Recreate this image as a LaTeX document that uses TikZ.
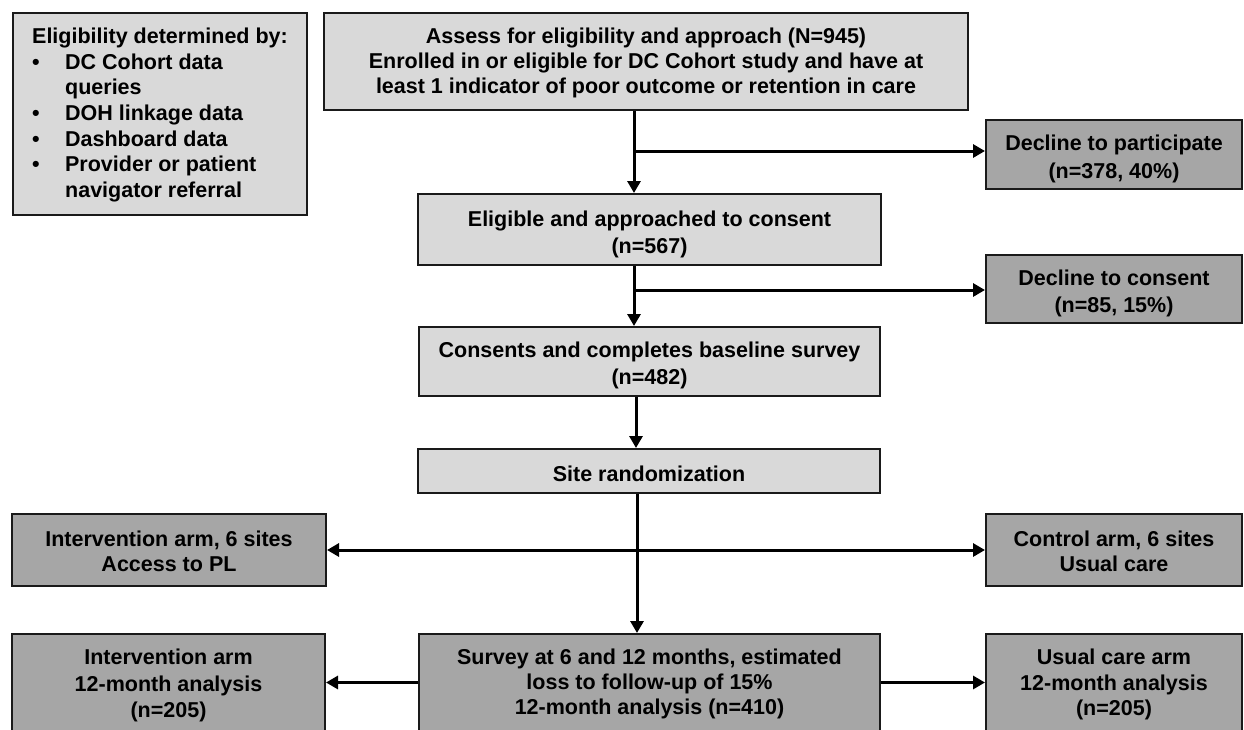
\documentclass[tikz,border=0pt]{standalone}
\usepackage{fontspec}
\setmainfont{Liberation Sans}
\usetikzlibrary{arrows.meta}
\definecolor{cLight}{HTML}{D9D9D9}
\definecolor{cDark}{HTML}{A6A6A6}
\definecolor{cLine}{HTML}{1A1A1A}
\begin{document}
\begin{tikzpicture}[x=1pt,y=-1pt,
  boxbase/.style={draw=cLine, line width=2pt, rectangle, inner sep=0pt},
  lightbox/.style={boxbase, fill=cLight},
  darkbox/.style={boxbase, fill=cDark},
  txt/.style={inner sep=0pt, align=center, text=black,
    font=\fontsize{21.5}{#1}\selectfont\bfseries},
  txt/.default=26,
  arr/.style={draw=black, line width=3pt, -{Triangle[length=12pt,width=13pt]}},
  biarr/.style={draw=black, line width=3pt, {Triangle[length=12pt,width=13pt]}-{Triangle[length=12pt,width=13pt]}}]
\useasboundingbox (0,0) rectangle (1244,729);
\clip (0,0) rectangle (1244,729);

% boxes
\node[lightbox, minimum width=294pt, minimum height=202pt] (elig) at (160,114) {};
\node[lightbox, minimum width=644pt, minimum height=97pt] (assess) at (646,61.5) {};
\node[darkbox, minimum width=256pt, minimum height=69pt] (decl1) at (1114,154.5) {};
\node[lightbox, minimum width=463pt, minimum height=71pt] (eligible) at (649.5,229.5) {};
\node[darkbox, minimum width=256pt, minimum height=68pt] (decl2) at (1114,289) {};
\node[lightbox, minimum width=461pt, minimum height=69pt] (consents) at (649.5,361.5) {};
\node[lightbox, minimum width=462pt, minimum height=44pt] (site) at (649,471) {};
\node[darkbox, minimum width=314pt, minimum height=72pt] (intarm) at (169,550) {};
\node[darkbox, minimum width=256pt, minimum height=72pt] (ctrlarm) at (1114,550) {};
\node[darkbox, minimum width=461pt, minimum height=97pt] (survey) at (649.5,682.5) {};
\node[darkbox, minimum width=313pt, minimum height=97pt] (int12) at (168.5,682.5) {};
\node[darkbox, minimum width=256pt, minimum height=97pt] (usual12) at (1114,682.5) {};

% texts
\node[txt=25.7, align=left] (eligT) at ([yshift=-1pt]elig.center)
  {Eligibility determined by:\\
   \makebox[33pt][l]{•}DC Cohort data\\
   \makebox[33pt][l]{}queries\\
   \makebox[33pt][l]{•}DOH linkage data\\
   \makebox[33pt][l]{•}Dashboard data\\
   \makebox[33pt][l]{•}Provider or patient\\
   \makebox[33pt][l]{}navigator referral};
\node[txt=25] (assessT) at ([yshift=-1pt]assess.center)
  {Assess for eligibility and approach (N=945)\\
   Enrolled in or eligible for DC Cohort study and have at\\
   least 1 indicator of poor outcome or retention in care};
\node[txt=28] (decl1T) at ([yshift=-4pt]decl1.center) {Decline to participate\\(n=378, 40\%)};
\node[txt=27] (eligibleT) at ([yshift=-4.5pt]eligible.center) {Eligible and approached to consent\\(n=567)};
\node[txt=27] (decl2T) at ([yshift=-4.5pt]decl2.center) {Decline to consent\\(n=85, 15\%)};
\node[txt=27] (consentsT) at ([yshift=-4pt]consents.center) {Consents and completes baseline survey\\(n=482)};
\node[txt] (siteT) at ([yshift=-3pt]site.center) {Site randomization};
\node[txt=25] (intarmT) at ([yshift=-1pt]intarm.center) {Intervention arm, 6 sites\\Access to PL};
\node[txt=25] (ctrlarmT) at ([yshift=-1pt]ctrlarm.center) {Control arm, 6 sites\\Usual care};
\node[txt=25] (surveyT) at ([yshift=-1pt]survey.center)
  {Survey at 6 and 12 months, estimated\\loss to follow-up of 15\%\\12-month analysis (n=410)};
\node[txt=26.5] (int12T) at ([yshift=-3pt]int12.center) {Intervention arm\\12-month analysis\\(n=205)};
\node[txt=25.5] (usual12T) at ([yshift=-2pt]usual12.center) {Usual care arm\\12-month analysis\\(n=205)};

% spine coordinates
\coordinate (s1) at (634,0);
\coordinate (s2) at (636,0);
\coordinate (s3) at (637,0);
\coordinate (b1) at (634,151);
\coordinate (b2) at (634,290);

% connectors
\draw[arr] (assess.south -| s1) -- (eligible.north -| s1);
\draw[arr] (b1) -- (decl1.west |- b1);
\draw[arr] (eligible.south -| s1) -- (consents.north -| s1);
\draw[arr] (b2) -- (decl2.west |- b2);
\draw[arr] (consents.south -| s2) -- (site.north -| s2);
\draw[biarr] (intarm.east) -- (ctrlarm.west);
\draw[arr] (site.south -| s3) -- (survey.north -| s3);
\draw[arr] (survey.west) -- (int12.east);
\draw[arr] (survey.east) -- (usual12.west);
\end{tikzpicture}
\end{document}
